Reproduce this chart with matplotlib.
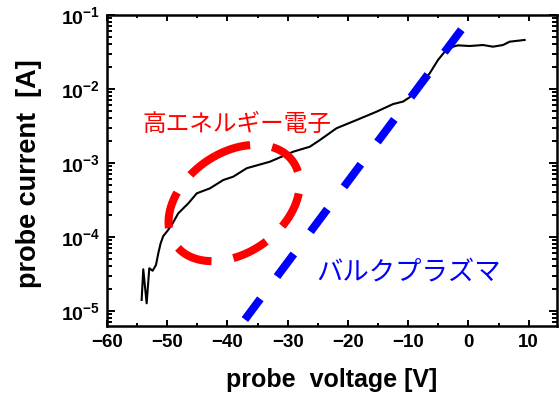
import numpy as np
import matplotlib
matplotlib.use("Agg")
import matplotlib.pyplot as plt
from matplotlib.ticker import LogLocator, MultipleLocator, FixedLocator, FuncFormatter

plt.rcParams['font.family'] = ['Liberation Sans', 'DejaVu Sans']
plt.rcParams['mathtext.fontset'] = 'custom'
plt.rcParams['mathtext.rm'] = 'Liberation Sans:bold'
plt.rcParams['mathtext.bf'] = 'Liberation Sans:bold'
plt.rcParams['mathtext.it'] = 'Liberation Sans:bold'
plt.rcParams['mathtext.default'] = 'bf'

# probe I-V characteristic
voltage = [-54.25, -53.98, -53.42, -52.98, -52.42, -51.87, -51.49, -51.1, -50.66, -50.0,
           -49.27, -48.17, -46.5, -45.1, -42.9, -40.7, -39.05, -36.8, -34.9, -32.97,
           -29.1, -26.33, -24.67, -21.9, -18.6, -15.27, -12.5, -10.86, -10.03, -9.75,
           -6.43, -5.05, -3.94, -2.56, -1.73, 0.2, 2.41, 4.07, 5.73, 6.84, 9.33]
current = [1.41e-5, 3.66e-5, 1.27e-5, 3.78e-5, 3.5e-5, 4.19e-5, 6.0e-5, 8.2e-5, 1.03e-4, 1.2e-4,
           1.45e-4, 2.09e-4, 2.85e-4, 3.89e-4, 4.55e-4, 5.89e-4, 6.53e-4, 8.5e-4, 9.4e-4, 1.04e-3,
           1.42e-3, 1.66e-3, 2.04e-3, 2.95e-3, 3.8e-3, 4.93e-3, 6.26e-3, 6.76e-3, 7.48e-3, 7.73e-3,
           1.63e-2, 2.47e-2, 3.19e-2, 3.73e-2, 3.89e-2, 3.81e-2, 3.93e-2, 3.73e-2, 3.93e-2, 4.36e-2, 4.6e-2]

# bulk plasma fit line (top -> bottom)
bulk_v = [-1.18, -37.11]
bulk_i = [6.33e-2, 7.67e-6]

# high-energy electron ellipse: centre in data, semi-axes (px) and tilt (deg)
ell_center = (-38.9, 2.88e-4)
ell_axes_px = (72, 50)
ell_angle = 35
ell_start_deg = 81

label_hot = "高エネルギー電子"
label_hot_pos = (-38.4, 3.3e-3)
label_bulk = "バルクプラズマ"
label_bulk_pos = (-10.0, 3.36e-5)

xticks = [-60, -50, -40, -30, -20, -10, 0, 10]

fig = plt.figure(figsize=(5.59, 3.96), dpi=100)
ax = fig.add_axes([107/559, 1-326/396, 450/559, 311/396])
ax.set_yscale('log')
ax.set_xlim(-60, 14.7)
ax.set_ylim(6.27e-6, 1e-1)

ax.plot(voltage, current, color='black', lw=1.5, solid_joinstyle='round', zorder=3)

ax.plot(bulk_v, bulk_i, color='#0000ff', lw=5.8, dashes=(3.5, 3.45),
        dash_capstyle='butt', zorder=4)

# ellipse built in display space, converted to data
fig.canvas.draw()
cx, cy = ax.transData.transform(ell_center)
a, b = ell_axes_px
phi = np.deg2rad(ell_angle)
t = np.deg2rad(np.linspace(ell_start_deg, ell_start_deg - 360, 400))
ux, uy = np.cos(phi), np.sin(phi)
vx, vy = -np.sin(phi), np.cos(phi)
px = cx + a*np.cos(t)*ux + b*np.sin(t)*vx
py = cy + a*np.cos(t)*uy + b*np.sin(t)*vy
pts = ax.transData.inverted().transform(np.column_stack([px, py]))
ax.plot(pts[:, 0], pts[:, 1], color='#ff0000', lw=5.8, dashes=(4.6, 2.75),
        dash_capstyle='butt', zorder=5)

cjk = ['Noto Sans CJK JP', 'DejaVu Sans']
ax.text(*label_hot_pos, label_hot, color='#ff0000', fontsize=17, family=cjk,
        ha='center', va='center', zorder=6)
ax.text(*label_bulk_pos, label_bulk, color='#0000ff', fontsize=19, family=cjk,
        ha='center', va='center', zorder=6)

ax.xaxis.set_major_locator(FixedLocator(xticks))
ax.xaxis.set_minor_locator(MultipleLocator(5))
ax.yaxis.set_major_locator(LogLocator(base=10, numticks=20))
ax.yaxis.set_minor_locator(LogLocator(base=10, subs=np.arange(2, 10), numticks=20))
ax.yaxis.set_major_formatter(FuncFormatter(
    lambda v, p: r'$\mathbf{10^{%d}}$' % int(round(np.log10(v)))))

ax.tick_params(axis='both', which='both', direction='in', top=True, right=True, width=1.4)
ax.tick_params(axis='x', which='major', length=4, pad=6, labelsize=13.5)
ax.tick_params(axis='x', which='minor', length=2.2)
ax.tick_params(axis='y', which='major', length=6, pad=5, labelsize=14)
ax.tick_params(axis='y', which='minor', length=3.6)
for lab in ax.get_xticklabels():
    lab.set_fontweight('bold')
for s in ax.spines.values():
    s.set_linewidth(1.8)

ax.set_xlabel('probe  voltage [V]', fontsize=18, fontweight='bold')
ax.set_ylabel('probe current  [A]', fontsize=19.5, fontweight='bold')
ax.xaxis.set_label_coords(0.5, -0.135)
ax.yaxis.set_label_coords(-0.144, 0.49)

fig.savefig('out.png', dpi=100)
